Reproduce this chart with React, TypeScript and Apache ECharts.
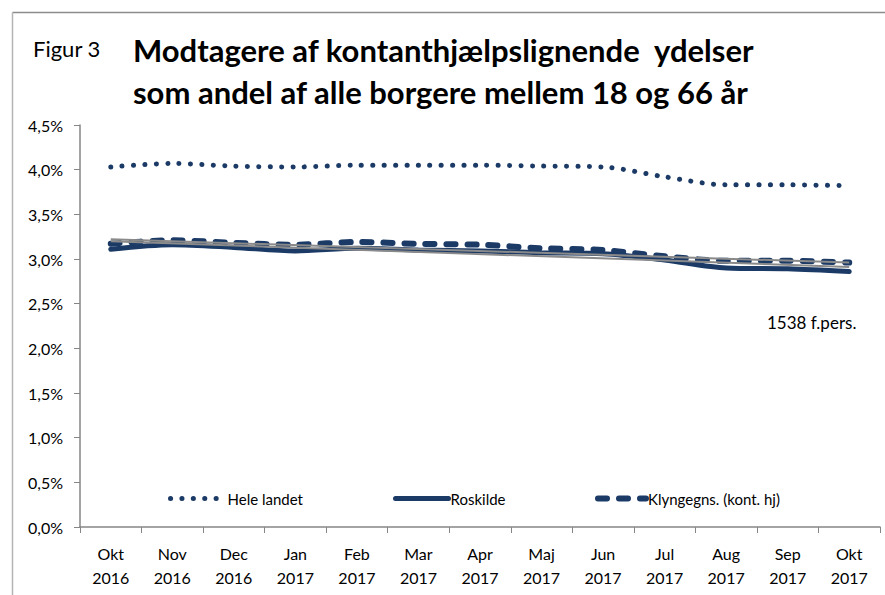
import React, { useEffect, useRef } from "react";
import * as echarts from "echarts";

const months = ["Okt\n2016", "Nov\n2016", "Dec\n2016", "Jan\n2017", "Feb\n2017", "Mar\n2017", "Apr\n2017", "Maj\n2017", "Jun\n2017", "Jul\n2017", "Aug\n2017", "Sep\n2017", "Okt\n2017"];
const heleLandet = [4.03, 4.07, 4.04, 4.03, 4.05, 4.05, 4.05, 4.04, 4.03, 3.92, 3.83, 3.83, 3.82];
const roskilde = [3.11, 3.16, 3.13, 3.09, 3.12, 3.1, 3.09, 3.07, 3.06, 2.99, 2.9, 2.89, 2.86];
const klynge = [3.17, 3.21, 3.18, 3.16, 3.19, 3.17, 3.16, 3.12, 3.1, 3.03, 2.98, 2.98, 2.96];
const trendKlynge = [3.22, null, null, null, null, null, null, null, null, null, null, null, 2.96];
const trendRoskilde = [3.2, null, null, null, null, null, null, null, null, null, null, null, 2.91];
const yTicks = { min: 0, max: 4.5, interval: 0.5 };
const navy = "#1b3a66";
const font = "Lato, 'Open Sans', sans-serif";

export default function App() {
  const ref = useRef<HTMLDivElement>(null);
  useEffect(() => {
    document.body.style.margin = "0";
    const chart = echarts.init(ref.current!, null, { renderer: "svg" });
    const legendBase = {
      top: 486,
      itemHeight: 14,
      itemGap: 0,
      itemStyle: { opacity: 0 },
      lineStyle: { width: "inherit", type: "inherit", cap: "round" },
      textStyle: { fontFamily: font, fontSize: 15, color: "#000", padding: [0, 0, 0, -3] },
    };
    chart.setOption({
      animation: false,
      backgroundColor: "#fff",
      grid: { left: 80, right: 5, top: 125, bottom: 68 },
      legend: [
        { ...legendBase, left: 163, itemWidth: 55, data: ["Hele landet"] },
        { ...legendBase, left: 388, itemWidth: 53, data: ["Roskilde"] },
        { ...legendBase, left: 590, itemWidth: 48, data: ["Klyngegns. (kont. hj)"] },
      ],
      xAxis: {
        type: "category",
        data: months,
        boundaryGap: true,
        axisLine: { lineStyle: { color: "#868686", width: 1.5 } },
        axisTick: { show: true, interval: 0, length: 6, lineStyle: { color: "#868686" } },
        axisLabel: { interval: 0, margin: 14, fontFamily: font, fontSize: 16, color: "#000", lineHeight: 24 },
      },
      yAxis: {
        type: "value",
        min: yTicks.min,
        max: yTicks.max,
        interval: yTicks.interval,
        splitLine: { show: false },
        axisLine: { show: true, lineStyle: { color: "#868686", width: 1.5 } },
        axisTick: { show: true, length: 6, lineStyle: { color: "#868686" } },
        axisLabel: {
          margin: 17,
          fontFamily: font,
          fontSize: 16,
          color: "#000",
          formatter: (v: number) => v.toFixed(1).replace(".", ",") + "%",
        },
      },
      series: [
        {
          name: "Hele landet",
          type: "line",
          data: heleLandet,
          smooth: 0.3,
          symbol: "none",
          color: navy,
          lineStyle: { color: navy, width: 5, type: [0.1, 11.3], cap: "round" },
        },
        {
          name: "Roskilde",
          type: "line",
          data: roskilde,
          smooth: 0.3,
          symbol: "none",
          color: navy,
          lineStyle: { color: navy, width: 5, cap: "round" },
        },
        {
          name: "Klyngegns. (kont. hj)",
          type: "line",
          data: klynge,
          smooth: 0.3,
          symbol: "none",
          color: navy,
          lineStyle: { color: navy, width: 6, type: [9, 12], cap: "round" },
        },
        {
          name: "trendKlynge",
          type: "line",
          data: trendKlynge,
          connectNulls: true,
          symbol: "none",
          lineStyle: { color: "#8a8a8a", width: 2 },
        },
        {
          name: "trendRoskilde",
          type: "line",
          data: trendRoskilde,
          connectNulls: true,
          symbol: "none",
          lineStyle: { color: "#8a8a8a", width: 2 },
        },
      ],
      graphic: [
        { type: "line", shape: { x1: 12.5, y1: 12.5, x2: 885, y2: 12.5 }, style: { stroke: "#8c8c8c", lineWidth: 1.5 } },
        { type: "line", shape: { x1: 12.5, y1: 12.5, x2: 12.5, y2: 595 }, style: { stroke: "#b4b4b4", lineWidth: 1.5 } },
        { type: "text", x: 33, y: 48, style: { text: "Figur 3", fontFamily: font, fontSize: 22, fill: "#000", verticalAlign: "middle" } },
        {
          type: "text",
          x: 133,
          y: 50,
          style: { text: "Modtagere af kontanthjælpslignende  ydelser", fontFamily: font, fontWeight: "bold", fontSize: 31, fill: "#000", verticalAlign: "middle" },
        },
        {
          type: "text",
          x: 133,
          y: 92,
          style: { text: "som andel af alle borgere mellem 18 og 66 år", fontFamily: font, fontWeight: "bold", fontSize: 31, fill: "#000", verticalAlign: "middle" },
        },
        { type: "text", x: 767, y: 322, style: { text: "1538 f.pers.", fontFamily: font, fontSize: 17, fill: "#000", verticalAlign: "middle" } },
      ],
    });
    return () => chart.dispose();
  }, []);
  return <div ref={ref} style={{ width: 885, height: 595 }} />;
}
